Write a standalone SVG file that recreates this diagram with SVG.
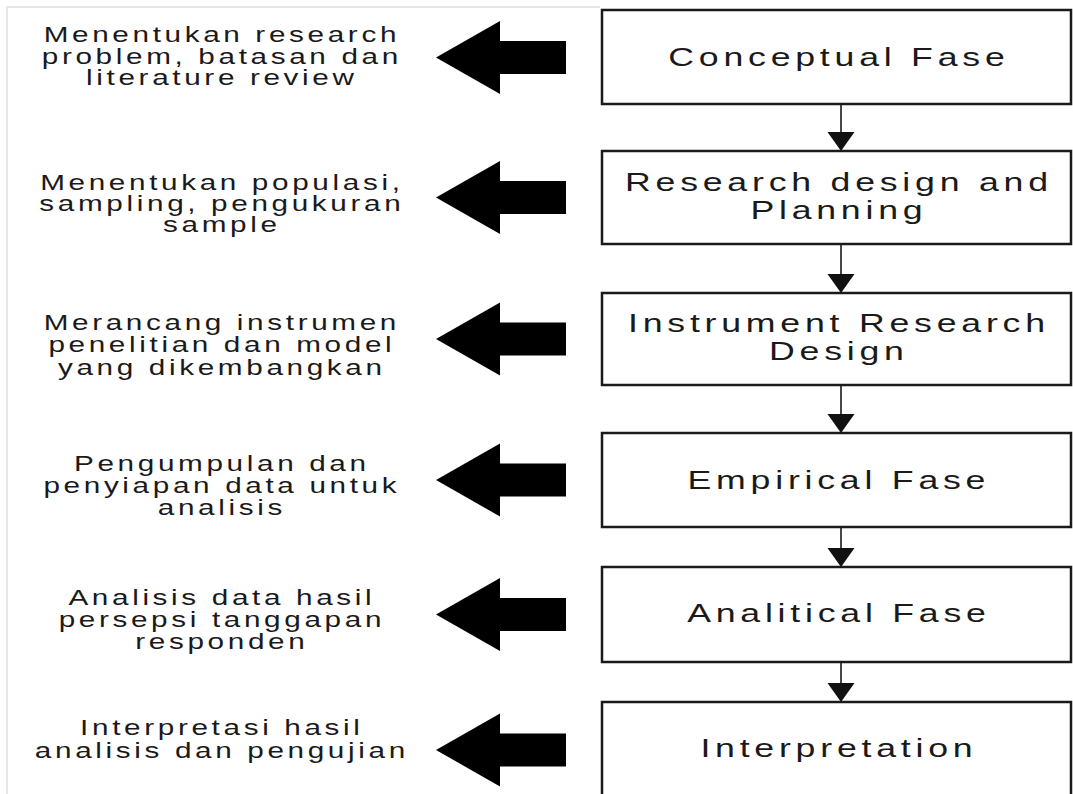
<svg xmlns="http://www.w3.org/2000/svg" width="1073" height="794" viewBox="0 0 1073 794">
  <defs>
    <style>
      .box { fill: #ffffff; stroke: #1a1a1a; stroke-width: 2.5; }
      .link { fill: none; stroke: #1a1a1a; stroke-width: 1.6; }
      .head { fill: #111111; }
      .block { fill: #000000; }
      .frame { fill: none; stroke: #e6e6e6; stroke-width: 2; }
      .lbl { font-family: "Liberation Sans", Arial, sans-serif; font-size: 22px; letter-spacing: 2.7px; fill: #1a1a1a; text-anchor: middle; }
      .ttl { font-family: "Liberation Sans", Arial, sans-serif; font-size: 25.5px; letter-spacing: 3.4px; fill: #1a1a1a; text-anchor: middle; }
    </style>
    <!-- wide block arrow pointing left, tip at origin -->
    <path id="blockArrow" class="block" d="M0 0 L64 -36.5 L64 -16.5 L130 -16.5 L130 16.5 L64 16.5 L64 36.5 Z"/>
  </defs>

  <rect width="1073" height="794" fill="#ffffff"/>
  <path class="frame" d="M7 794 V7 H600"/>

  <!-- phase boxes -->
  <g id="node-conceptual">
    <rect class="box" x="602" y="10" width="469" height="94"/>
    <g transform="translate(836.5 0) scale(1.4 1)">
      <text class="ttl" x="1.7" y="66.5">Conceptual Fase</text>
    </g>
  </g>
  <g id="node-design">
    <rect class="box" x="602" y="151" width="469" height="93"/>
    <g transform="translate(836.5 0) scale(1.4 1)">
      <text class="ttl" x="1.7" y="191">Research design and</text>
      <text class="ttl" x="1.7" y="219.5">Planning</text>
    </g>
  </g>
  <g id="node-instrument">
    <rect class="box" x="602" y="293" width="469" height="92"/>
    <g transform="translate(836.5 0) scale(1.4 1)">
      <text class="ttl" x="1.7" y="332">Instrument Research</text>
      <text class="ttl" x="1.7" y="360.5">Design</text>
    </g>
  </g>
  <g id="node-empirical">
    <rect class="box" x="602" y="433" width="469" height="94"/>
    <g transform="translate(836.5 0) scale(1.4 1)">
      <text class="ttl" x="1.7" y="489">Empirical Fase</text>
    </g>
  </g>
  <g id="node-analitical">
    <rect class="box" x="602" y="567" width="469" height="95"/>
    <g transform="translate(836.5 0) scale(1.4 1)">
      <text class="ttl" x="1.7" y="622">Analitical Fase</text>
    </g>
  </g>
  <g id="node-interpretation">
    <rect class="box" x="602" y="702" width="469" height="130"/>
    <g transform="translate(836.5 0) scale(1.4 1)">
      <text class="ttl" x="1.7" y="757">Interpretation</text>
    </g>
  </g>

  <!-- left-hand notes with their block arrows -->
  <g id="note-conceptual">
    <use href="#blockArrow" x="436" y="57.5"/>
    <g transform="translate(220 0) scale(1.35 1)">
      <text class="lbl" x="1.35" y="42.5">Menentukan research</text>
      <text class="lbl" x="1.35" y="64">problem, batasan dan</text>
      <text class="lbl" x="1.35" y="85.5">literature review</text>
    </g>
  </g>
  <g id="note-design">
    <use href="#blockArrow" x="436" y="197.5"/>
    <g transform="translate(220 0) scale(1.35 1)">
      <text class="lbl" x="1.35" y="190.5">Menentukan populasi,</text>
      <text class="lbl" x="1.35" y="211.5">sampling, pengukuran</text>
      <text class="lbl" x="1.35" y="232.5">sample</text>
    </g>
  </g>
  <g id="note-instrument">
    <use href="#blockArrow" x="436" y="339"/>
    <g transform="translate(220 0) scale(1.35 1)">
      <text class="lbl" x="1.35" y="330">Merancang instrumen</text>
      <text class="lbl" x="1.35" y="352.5">penelitian dan model</text>
      <text class="lbl" x="1.35" y="375">yang dikembangkan</text>
    </g>
  </g>
  <g id="note-empirical">
    <use href="#blockArrow" x="436" y="480"/>
    <g transform="translate(220 0) scale(1.35 1)">
      <text class="lbl" x="1.35" y="471.5">Pengumpulan dan</text>
      <text class="lbl" x="1.35" y="493">penyiapan data untuk</text>
      <text class="lbl" x="1.35" y="515">analisis</text>
    </g>
  </g>
  <g id="note-analitical">
    <use href="#blockArrow" x="436" y="614.5"/>
    <g transform="translate(220 0) scale(1.35 1)">
      <text class="lbl" x="1.35" y="605">Analisis data hasil</text>
      <text class="lbl" x="1.35" y="627">persepsi tanggapan</text>
      <text class="lbl" x="1.35" y="649">responden</text>
    </g>
  </g>
  <g id="note-interpretation">
    <use href="#blockArrow" x="436" y="750"/>
    <g transform="translate(220 0) scale(1.35 1)">
      <text class="lbl" x="1.35" y="735">Interpretasi hasil</text>
      <text class="lbl" x="1.35" y="758">analisis dan pengujian</text>
    </g>
  </g>

  <!-- flow between phases -->
  <g id="connectors">
    <path class="link" d="M841 104 V134"/>
    <path class="head" d="M827.5 132 L854.5 132 L841 151 Z"/>
    <path class="link" d="M841 244 V276"/>
    <path class="head" d="M827.5 274 L854.5 274 L841 293 Z"/>
    <path class="link" d="M841 385 V416"/>
    <path class="head" d="M827.5 414 L854.5 414 L841 433 Z"/>
    <path class="link" d="M841 527 V550"/>
    <path class="head" d="M827.5 548 L854.5 548 L841 567 Z"/>
    <path class="link" d="M841 662 V685"/>
    <path class="head" d="M827.5 683 L854.5 683 L841 702 Z"/>
  </g>
</svg>
